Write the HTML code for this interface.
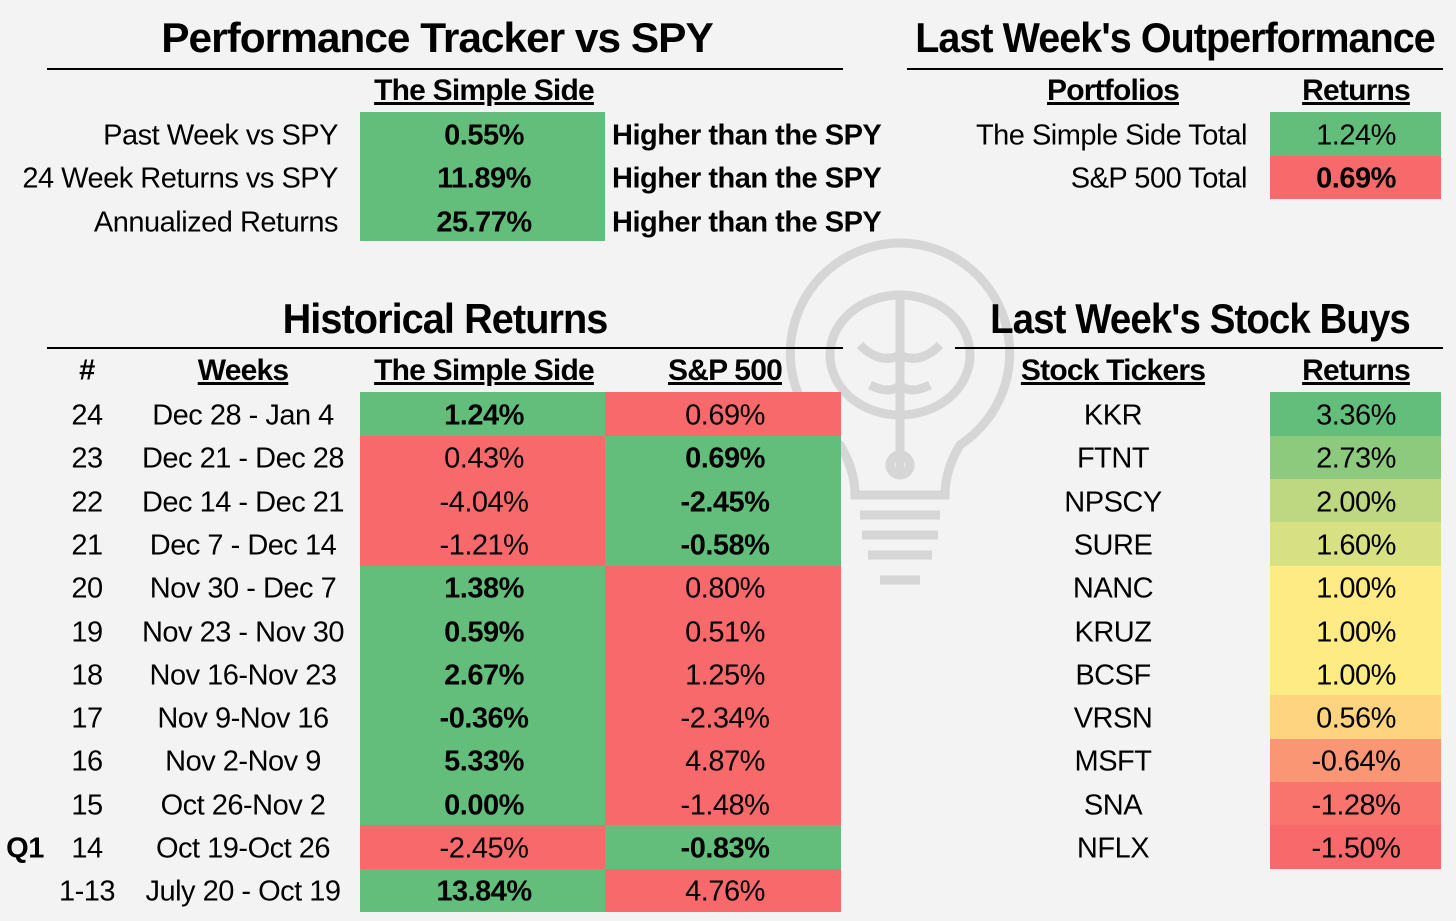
<!DOCTYPE html>
<html><head><meta charset="utf-8">
<style>
body{margin:0;width:1456px;height:921px;background:#f3f3f3;overflow:hidden;position:relative;font-family:"Liberation Sans",sans-serif;color:#000}
.t{position:absolute;white-space:nowrap;transform:translate(-50%,-50%);font-size:29px;letter-spacing:-0.5px}
.r{transform:translate(-100%,-50%)}
.l{transform:translate(0,-50%)}
.b{font-weight:bold}
.h{font-weight:bold;text-decoration:underline;font-size:30px;letter-spacing:-0.8px}
.title{font-weight:bold;font-size:42px;letter-spacing:-1px}
.line{position:absolute;height:2px;background:#000}
.cell{position:absolute}
</style></head><body>
<svg style="position:absolute;left:780px;top:235px" width="240" height="380" viewBox="0 0 240 380">
<g fill="none" stroke="#d6d6d6" stroke-width="9">
<path d="M120 8 A110 110 0 0 0 60 210 Q75 235 75 260 L165 260 Q165 235 180 210 A110 110 0 0 0 120 8Z"/>
<path d="M80 280 H160 M82 300 H158 M88 320 H152 M100 345 H140"/>
<ellipse cx="120" cy="120" rx="70" ry="60"/>
<path d="M120 60 V240 M80 110 Q100 130 120 120 M160 110 Q140 130 120 120 M90 150 Q110 160 120 150 M150 150 Q130 160 120 150"/>
<circle cx="120" cy="230" r="10"/>
</g></svg>
<div id="root"></div>
<script>
const weekNums=["24","23","22","21","20","19","18","17","16","15","14","1-13"];
const weekLabels=["Dec 28 - Jan 4","Dec 21 - Dec 28","Dec 14 - Dec 21","Dec 7 - Dec 14","Nov 30 - Dec 7","Nov 23 - Nov 30","Nov 16-Nov 23","Nov 9-Nov 16","Nov 2-Nov 9","Oct 26-Nov 2","Oct 19-Oct 26","July 20 - Oct 19"];
const simpleReturns=[1.24,0.43,-4.04,-1.21,1.38,0.59,2.67,-0.36,5.33,0.00,-2.45,13.84];
const spReturns=[0.69,0.69,-2.45,-0.58,0.80,0.51,1.25,-2.34,4.87,-1.48,-0.83,4.76];
const tickers=["KKR","FTNT","NPSCY","SURE","NANC","KRUZ","BCSF","VRSN","MSFT","SNA","NFLX"];
const tickerReturns=[3.36,2.73,2.00,1.60,1.00,1.00,1.00,0.56,-0.64,-1.28,-1.50];
const trackerLabels=["Past Week vs SPY","24 Week Returns vs SPY","Annualized Returns"];
const trackerValues=[0.55,11.89,25.77];
const portfolioNames=["The Simple Side Total","S&P 500 Total"];
const portfolioReturns=[1.24,0.69];
const G="#63be7b",R="#f8696b";
const root=document.getElementById('root');
function txt(s,x,y,cls,name){const d=document.createElement('div');d.className='t '+(cls||'');d.textContent=s;d.style.left=x+'px';d.style.top=(y+2)+'px';


root.appendChild(d);return d;}
function title(s,x,y,sx,name){const d=txt(s,x,y,'title',name);d.style.transform=`translate(-50%,-50%) scaleX(${sx})`;return d;}
function box(x,y,w,h,c,name){const d=document.createElement('div');d.className='cell';const t=Math.round(y),b=Math.round(y+h);d.style.cssText+=`left:${x}px;top:${t}px;width:${w}px;height:${b-t}px;background:${c}`;


root.appendChild(d);}
function line(x,y,w,name){const d=document.createElement('div');d.className='line';d.style.left=x+'px';d.style.top=y+'px';d.style.width=w+'px';


root.appendChild(d);}
const pct=v=>v.toFixed(2)+'%';
const rowH=43.3;
title("Performance Tracker vs SPY",437,36,1.01,'tracker-title');
line(47,68,796,'tracker-rule');
txt("The Simple Side",484,89,'h','tracker-header');
box(360,112,245,129,G,'tracker-cell-bg');
trackerLabels.forEach((s,i)=>{const y=134+i*rowH;
txt(s,338,y,'r','tracker-label');txt(pct(trackerValues[i]),484,y,'b','tracker-value');txt("Higher than the SPY",612,y,'l b','tracker-comparison');});
title("Last Week's Outperformance",1175,36,0.94,'outperformance-title');
line(907,68,536,'outperformance-rule');
txt("Portfolios",1113,89,'h','portfolios-header');txt("Returns",1356,89,'h','returns-header');
const pmax=Math.max(...portfolioReturns);
portfolioNames.forEach((s,i)=>{const y=134+i*rowH;
box(1270,y-21.6,171,rowH,portfolioReturns[i]===pmax?G:R,'portfolio-return-cell');
txt(s,1247,y,'r','portfolio-name');txt(pct(portfolioReturns[i]),1356,y,portfolioReturns[i]===pmax?'':'b','portfolio-return');});
title("Historical Returns",445,317,0.945,'historical-title');
line(47,347,796,'historical-rule');
txt("#",87,369,'b','num-header');txt("Weeks",243,369,'h','weeks-header');txt("The Simple Side",484,369,'h','simple-header');txt("S&P 500",725,369,'h','sp-header');
weekNums.forEach((n,i)=>{const y=414+i*rowH;const win=simpleReturns[i]>spReturns[i];
box(360,y-21.6,245,rowH,win?G:R,'simple-cell');box(605,y-21.6,236,rowH,win?R:G,'sp-cell');
txt(n,87,y,'','week-number');txt(weekLabels[i],243,y,'','week-range');
txt(pct(simpleReturns[i]),484,y,win?'b':'','simple-return');txt(pct(spReturns[i]),725,y,win?'':'b','sp-return');});
txt("Q1",25,414+10*rowH,'b','quarter-label');
title("Last Week's Stock Buys",1200,317,0.915,'stock-buys-title');
line(955,347,488,'stock-buys-rule');
txt("Stock Tickers",1113,369,'h','tickers-header');txt("Returns",1356,369,'h','stock-returns-header');
const mn=Math.min(...tickerReturns),mx=Math.max(...tickerReturns);
const sorted=[...tickerReturns].sort((a,b)=>a-b);const med=sorted[Math.floor(sorted.length/2)];
function mix(a,b,t){const pa=a.match(/\w\w/g).map(h=>parseInt(h,16)),pb=b.match(/\w\w/g).map(h=>parseInt(h,16));return 'rgb('+pa.map((v,k)=>Math.round(v+(pb[k]-v)*t)).join(',')+')';}
function scale(v){return v>=med?mix('ffeb84','63be7b',(v-med)/(mx-med||1)):mix('f8696b','ffeb84',(v-mn)/(med-mn||1));}
tickers.forEach((s,i)=>{const y=414+i*rowH;
box(1270,y-21.6,171,rowH,scale(tickerReturns[i]),'ticker-return-cell');
txt(s,1113,y,'','ticker');txt(pct(tickerReturns[i]),1356,y,'','ticker-return');});
</script>
</body></html>
